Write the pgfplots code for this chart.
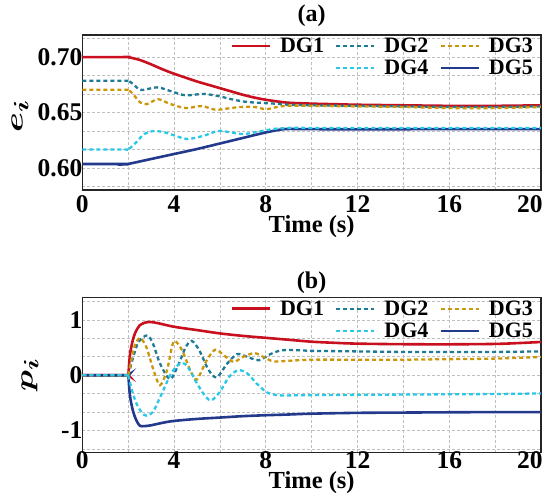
\documentclass[border=0pt]{standalone}
\usepackage{pgfplots}
\pgfplotsset{compat=1.18}
\usepackage{graphicx}
\usepackage{bm}
\usepackage{fontspec}
\setmainfont{Liberation Serif}
\definecolor{c1}{RGB}{200,16,30}
\definecolor{c2}{RGB}{30,122,150}
\definecolor{c3}{RGB}{204,150,10}
\definecolor{c4}{RGB}{40,200,230}
\definecolor{c5}{RGB}{35,58,140}
\newcommand{\lf}{\fontsize{25.5}{25.5}\selectfont\bfseries}
\pgfplotsset{
  every axis title shift=0pt,
  mystyle/.style={
    scale only axis, width=458.7pt, height=155pt,
    xmin=0, xmax=20, xtick={0,4,...,20}, minor xtick={2,6,10,14,18},
    xticklabels={0,4,8,12,16,{20\hspace*{22pt}}},
    grid=both,
    major grid style={dash pattern=on 3pt off 2pt, gray!50, line width=0.6pt},
    minor grid style={dash pattern=on 3pt off 2pt, gray!50, line width=0.6pt},
    axis line style={black!85, line width=1.4pt},
    major tick length=0pt, minor tick length=0pt,
    tick label style={font=\lf},
    /pgf/number format/assume math mode=true,
    yticklabel style={xshift=3.5pt},
    xlabel={Time (s)},
    xlabel style={font=\fontsize{24.5}{24.5}\selectfont\bfseries, anchor=center},
    title style={font=\fontsize{24}{24}\selectfont\bfseries, anchor=center},
    ylabel style={anchor=center, font=\fontsize{32}{32}\selectfont},
    legend columns=3,
    legend style={draw=none, fill=none, font=\fontsize{22}{22}\selectfont\bfseries,
      at={(rel axis cs:1,1)}, anchor=north east, xshift=-5pt, yshift=0pt,
      inner sep=0pt, outer sep=0pt, nodes={inner sep=3pt},
      /tikz/every odd column/.style={column sep=6pt},
      /tikz/every even column/.style={column sep=8pt}},
    legend image code/.code={\draw[#1] (0pt,0pt) -- (38pt,0pt);},
    sol/.style={line width=2.6pt},
    das/.style={line width=2.3pt, dash pattern=on 4pt off 3pt},
  }
}
\begin{document}
\begin{tikzpicture}
\useasboundingbox (0pt,0pt) rectangle (550pt,504pt);
% ---------------- (a) ----------------
\begin{axis}[mystyle, at={(82.3pt,314pt)}, anchor=south west,
  ymin=0.58, ymax=0.72, ytick={0.6,0.65,0.7}, yticklabels={0.60,0.65,0.70},
  minor ytick={0.58333,0.61667,0.63333,0.66667,0.68333,0.71667},
  xticklabel style={yshift=-2.3pt},
  title={(a)}, title style={at={(axis description cs:0.5,1.1226)}},
  xlabel style={at={(axis description cs:0.5,-0.2387)}},
  ylabel={\scalebox{1.45}[1]{$\bm{e_i}$}},
  ylabel style={at={(axis description cs:-0.136,0.477)}},
]
\addlegendimage{c1, sol}\addlegendentry{DG1}
\addlegendimage{c2, das}\addlegendentry{DG2}
\addlegendimage{c3, das}\addlegendentry{DG3}
\addlegendimage{empty legend}\addlegendentry{}
\addlegendimage{c4, das}\addlegendentry{DG4}
\addlegendimage{c5, sol}\addlegendentry{DG5}
\addplot[c5, sol, smooth, forget plot] coordinates {(0,0.6035) (1.9,0.6035) (2,0.6035) (3,0.608) (4,0.6125) (5,0.617) (6,0.622) (7,0.627) (8,0.632) (8.8,0.635) (9.5,0.635) (12,0.6348) (16,0.635) (20,0.635)};
\addplot[c1, sol, smooth, forget plot] coordinates {(0,0.700) (1.9,0.700) (2,0.700) (2.5,0.6975) (3,0.6935) (3.5,0.689) (4,0.685) (4.5,0.6815) (5,0.678) (5.5,0.675) (6,0.672) (6.5,0.669) (7,0.666) (7.5,0.6635) (8,0.6615) (8.5,0.66) (9,0.6588) (10,0.658) (11,0.6575) (12,0.657) (14,0.6565) (16,0.656) (18,0.656) (20,0.6565)};
\addplot[c2, das, smooth, forget plot] coordinates {(0,0.6787) (1.9,0.6787) (2,0.6787) (2.2,0.676) (2.5,0.6705) (2.8,0.671) (3.3,0.6727) (3.9,0.669) (4.5,0.6655) (5.3,0.6668) (6,0.6645) (6.5,0.662) (7,0.660) (7.5,0.659) (8,0.6585) (8.5,0.6578) (9,0.657) (10,0.6565) (12,0.656) (14,0.6555) (16,0.655) (18,0.655) (20,0.6555)};
\addplot[c3, das, smooth, forget plot] coordinates {(0,0.6705) (1.9,0.6705) (2,0.6705) (2.2,0.667) (2.5,0.6595) (2.8,0.6575) (3.3,0.662) (3.8,0.658) (4.5,0.654) (5.2,0.6558) (5.8,0.6525) (6.3,0.6535) (6.9,0.655) (7.5,0.655) (8,0.653) (8.5,0.655) (9,0.6562) (10,0.656) (12,0.6555) (14,0.655) (16,0.654) (18,0.654) (20,0.655)};
\addplot[c4, das, smooth, forget plot] coordinates {(0,0.6165) (1.9,0.6165) (2,0.6165) (2.3,0.622) (2.7,0.6305) (3.1,0.6333) (3.6,0.632) (4.2,0.628) (4.6,0.626) (5.3,0.629) (5.9,0.6333) (6.5,0.632) (7,0.6305) (7.5,0.632) (8,0.634) (8.5,0.6355) (9.2,0.6362) (10,0.636) (12,0.636) (16,0.636) (20,0.636)};
\end{axis}
% ---------------- (b) ----------------
\begin{axis}[mystyle, at={(82.3pt,51.3pt)}, anchor=south west,
  ymin=-1.4, ymax=1.4, ytick={-1,0,1}, yticklabels={-1,0,1},
  minor ytick={-1.33333,-0.66667,-0.33333,0.33333,0.66667,1.33333},
  xticklabel style={yshift=4.4pt},
  title={(b)}, title style={at={(axis description cs:0.5,1.098)}},
  xlabel style={at={(axis description cs:0.5,-0.1955)}},
  ylabel={\scalebox{1.4}[1]{$\bm{p_i}$}},
  ylabel style={at={(axis description cs:-0.114,0.501)}},
]
\addlegendimage{c1, sol}\addlegendentry{DG1}
\addlegendimage{c2, das}\addlegendentry{DG2}
\addlegendimage{c3, das}\addlegendentry{DG3}
\addlegendimage{empty legend}\addlegendentry{}
\addlegendimage{c4, das}\addlegendentry{DG4}
\addlegendimage{c5, sol}\addlegendentry{DG5}
\addplot[c1, sol, smooth, forget plot] coordinates {(0,0) (1.9,0) (2,0) (2.05,0.25) (2.1,0.43) (2.2,0.63) (2.3,0.76) (2.4,0.84) (2.5,0.9) (2.7,0.945) (2.95,0.962) (3.3,0.94) (4,0.875) (5,0.815) (6,0.755) (7,0.71) (8,0.675) (9,0.64) (10,0.605) (11,0.585) (12,0.57) (14,0.56) (16,0.558) (18,0.565) (19,0.58) (20,0.60)};
\addplot[c5, sol, smooth, forget plot] coordinates {(0,0) (1.9,0) (2,0) (2.05,-0.25) (2.1,-0.43) (2.2,-0.63) (2.3,-0.76) (2.4,-0.85) (2.52,-0.915) (2.7,-0.92) (3,-0.905) (3.5,-0.86) (4,-0.826) (5,-0.79) (6,-0.765) (7,-0.74) (8,-0.723) (9,-0.71) (10,-0.695) (12,-0.68) (14,-0.675) (16,-0.67) (18,-0.667) (20,-0.667)};
\addplot[c2, das, smooth, forget plot] coordinates {(0,0) (1.9,0) (2,0) (2.2,0.3) (2.45,0.6) (2.84,0.72) (3.1,0.55) (3.4,0.2) (3.83,-0.07) (4.2,0.2) (4.5,0.5) (4.77,0.62) (5.1,0.45) (5.5,0.1) (5.86,-0.04) (6.3,0.2) (6.74,0.38) (7.2,0.33) (7.7,0.27) (8.2,0.38) (8.7,0.45) (9.5,0.45) (10,0.44) (12,0.43) (14,0.42) (16,0.42) (18,0.42) (20,0.43)};
\addplot[c3, das, smooth, forget plot] coordinates {(0,0) (1.9,0) (2,0) (2.15,0.3) (2.3,0.55) (2.52,0.67) (2.8,0.5) (3.1,0.1) (3.39,-0.18) (3.7,0.1) (3.9,0.5) (4.04,0.62) (4.35,0.45) (4.7,0.1) (4.99,-0.08) (5.4,0.25) (5.79,0.46) (6.2,0.35) (6.6,0.24) (7.0,0.33) (7.5,0.40) (7.9,0.33) (8.33,0.25) (9,0.26) (10,0.28) (12,0.28) (14,0.28) (16,0.29) (18,0.30) (20,0.33)};
\addplot[c4, das, smooth, forget plot] coordinates {(0,0) (1.9,0) (2,0) (2.15,-0.25) (2.35,-0.5) (2.6,-0.68) (2.8,-0.73) (3.1,-0.65) (3.5,-0.3) (3.9,0.05) (4.3,0.22) (4.6,0.15) (5.0,-0.15) (5.4,-0.4) (5.65,-0.45) (6.0,-0.3) (6.4,-0.03) (6.8,0.09) (7.2,0.03) (7.6,-0.15) (8.05,-0.31) (8.5,-0.36) (9,-0.365) (10,-0.36) (12,-0.355) (14,-0.35) (16,-0.345) (18,-0.34) (20,-0.33)};
\end{axis}
\end{tikzpicture}
\end{document}
